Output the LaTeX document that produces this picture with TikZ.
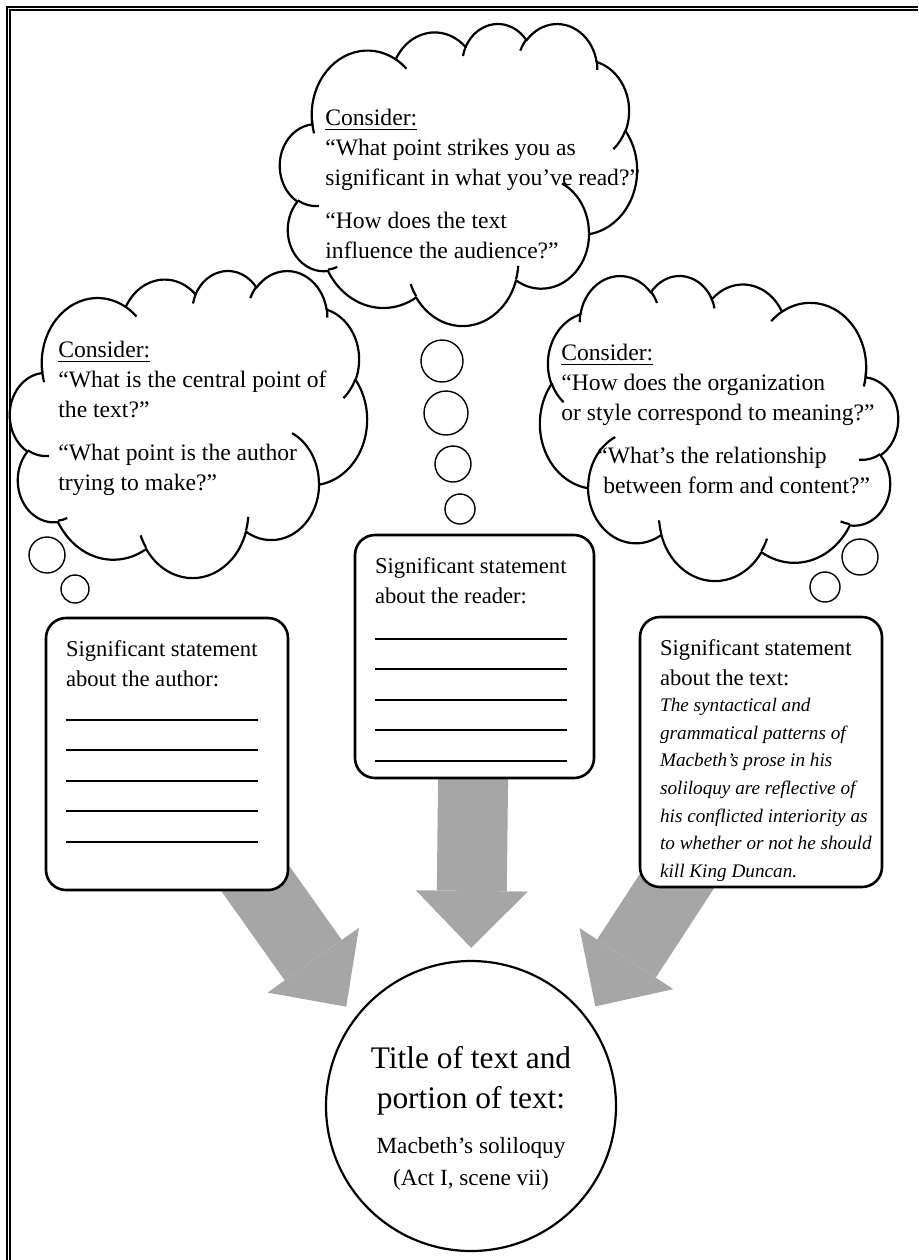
\documentclass[tikz,border=0pt]{standalone}
\usepackage{fontspec}
\setmainfont{Liberation Serif}
\usetikzlibrary{arrows.meta, calc, backgrounds}

\definecolor{arrowgray}{HTML}{A6A6A6}

% 云朵的一段弧（Office 的可视角度换成参数角度）
\newcommand\puff[4]{arc[x radius=#1, y radius=#2,
  start angle={atan2(#1*sin(#3),#2*cos(#3))},
  delta angle={Mod(atan2(#1*sin(#3+#4),#2*cos(#3+#4))-atan2(#1*sin(#3),#2*cos(#3)),360)}]}

% 整朵云，坐标范围 0..432
\newcommand\thoughtcloud[1]{%
  \begin{scope}[#1]
    \draw[cloudline, fill=white] (39,143.7)
      \puff{67.53}{91.90}{-190.4875}{123.7805}
      \puff{53.33}{72.67}{-144.1024}{89.9452}
      \puff{43.65}{59.45}{-145.8079}{99.7230}
      \puff{48.57}{65.95}{-130.9861}{117.2417}
      \puff{53.33}{72.73}{-78.7089}{109.0269}
      \puff{67.75}{92.20}{-46.2673}{130.2690}
      \puff{57.85}{78.67}{0.6250}{114.0333}
      \puff{67.52}{92.15}{22.4516}{115.1726}
      \puff{77.20}{105.43}{66.2426}{75.7110}
      \puff{43.60}{59.18}{-274.9421}{146.7356}
      \puff{43.45}{59.45}{-246.8285}{152.5189} -- cycle;
    \draw[cloudline]
      (46.93,261.77) \puff{43.45}{59.45}{86.7420}{26.4295}
      (69.28,348.99) \puff{43.60}{59.18}{73.6105}{11.4475}
      (164.78,390.90) \puff{67.52}{92.15}{137.6242}{14.0811}
      (288.27,347.51) \puff{67.52}{92.15}{6.4533}{15.9984}
      (341.29,229.54) \puff{57.85}{78.67}{-70.2924}{70.9174}
      (417.98,153.54) \puff{53.33}{72.73}{30.3180}{27.7515}
      (383.24,54.26) \puff{48.57}{65.95}{-13.7443}{14.8589}
      (290.78,39.52) \puff{48.57}{65.95}{-149.1815}{18.1954}
      (221.41,47.20) \puff{43.65}{59.45}{-163.4943}{17.6864}
      (140.00,51.92) \puff{67.53}{91.90}{-66.7070}{12.3194}
      (41.27,157.89) \puff{67.53}{91.90}{158.1548}{16.8202};
  \end{scope}}

\begin{document}
\begin{tikzpicture}[x=0.5pt, y=-0.5pt,
    cloudline/.style={line width=1.1pt, line join=round},
    bubble/.style={line width=0.7pt},
    card/.style={draw, line width=1.3pt, rounded corners=10pt, fill=white, inner sep=0pt},
    blank/.style={line width=1pt},
    bigarrow/.style={draw=arrowgray, line width=35pt,
      -{Triangle[width=56pt, length=28.5pt, line width=0pt]}},
    qtext/.style={font=\fontsize{11.8}{15}\selectfont, align=left, inner sep=0pt, anchor=north west},
    ctext/.style={font=\fontsize{11.3}{15}\selectfont, align=left, inner sep=0pt, anchor=north west}]
   \useasboundingbox (0,0) rectangle (918,1260);

   % 边框
   \draw[line width=1pt] (918,6.8) -- (6.8,6.8) -- (6.8,1260);
   \draw[line width=1pt] (918,10.2) -- (10.2,10.2) -- (10.2,1260);

   % 三朵云
   \thoughtcloud{shift={(280,23)}, xscale=357/432, yscale=302/432}
   \thoughtcloud{shift={(10,270)}, xscale=357/432, yscale=307/432}
   \thoughtcloud{shift={(898,275)}, xscale=-358/432, yscale=305/432}

   \node[qtext] (readq) at (325,109) {\underline{Consider:}\\“What point strikes you as\\significant in what you’ve read?”\\[6.5pt]“How does the text\\influence the audience?”};
   \node[qtext] (authorq) at (58,341) {\underline{Consider:}\\“What is the central point of\\the text?”\\[6.5pt]“What point is the author\\trying to make?”};
   \node[qtext] (textq) at (561,344) {\underline{Consider:}\\“How does the organization\\or style correspond to meaning?”};
   \node[qtext] (textq2) at (597,447) {“What’s the relationship\\\hspace{3pt}between form and content?”};

   % 小泡泡
   \foreach \cx/\cy/\r in {442/361/21, 446/413/22, 453/464/18, 460/509/15,
                           47/555/18, 75/589/14, 860/557/18, 825/587/15}
      \draw[bubble] (\cx,\cy) circle[radius=\r];

   % 三个方框
   \node[card, minimum width=121pt, minimum height=136pt] (authorbox) at (167,754) {};
   \node[card, minimum width=119.5pt, minimum height=121.5pt] (readerbox) at (474.5,656.5) {};
   \node[card, minimum width=121pt, minimum height=135pt] (textbox) at (761,752) {};

   \node[ctext] (authorhead) at ($(authorbox.north west)+(21,23)$) {Significant statement\\about the author:};
   \node[ctext] (readerhead) at ($(readerbox.north west)+(21,23)$) {Significant statement\\about the reader:};
   \node[ctext] (texthead) at ($(textbox.north west)+(21,23)$) {Significant statement\\about the text:};
   \node[font=\fontsize{9.6}{13.85}\selectfont\itshape, align=left, inner sep=0pt, anchor=north west]
      (textanswer) at ($(textbox.north west)+(21,82)$)
      {The syntactical and\\grammatical patterns of\\Macbeth’s prose in his\\soliloquy are reflective of\\his conflicted interiority as\\to whether or not he should\\kill King Duncan.};

   \foreach \k in {0,...,4} {
      \draw[blank] ($(authorbox.north west)+(21,103+30.5*\k)$) -- ++(192,0);
      \draw[blank] ($(readerbox.north west)+(21,105+30.5*\k)$) -- ++(192,0);
   }

   % 圆
   \node[draw, circle, line width=1.1pt, minimum size=145pt, fill=white, inner sep=0pt] (title) at (471,1106) {};
   \node[font=\fontsize{15.7}{20}\selectfont, align=center, inner sep=0pt, anchor=north]
      (titlehead) at ($(title.center)+(0,-60.5)$) {Title of text and\\portion of text:};
   \node[font=\fontsize{11.6}{16}\selectfont, align=center, inner sep=0pt, anchor=north]
      (titlesub) at ($(title.center)+(0,31)$) {Macbeth’s soliloquy\\(Act I, scene vii)};

   % 灰色大箭头
   \begin{scope}[on background layer]
      \fill[white] (0,0) rectangle (918,1260);
      \draw[bigarrow, shorten >=7pt] (authorbox.center) -- (title.143);
      \draw[bigarrow, shorten >=6pt] (readerbox.center) -- (title.north);
      \draw[bigarrow, shorten >=7pt] (textbox.center) -- (title.37);
   \end{scope}
\end{tikzpicture}
\end{document}
